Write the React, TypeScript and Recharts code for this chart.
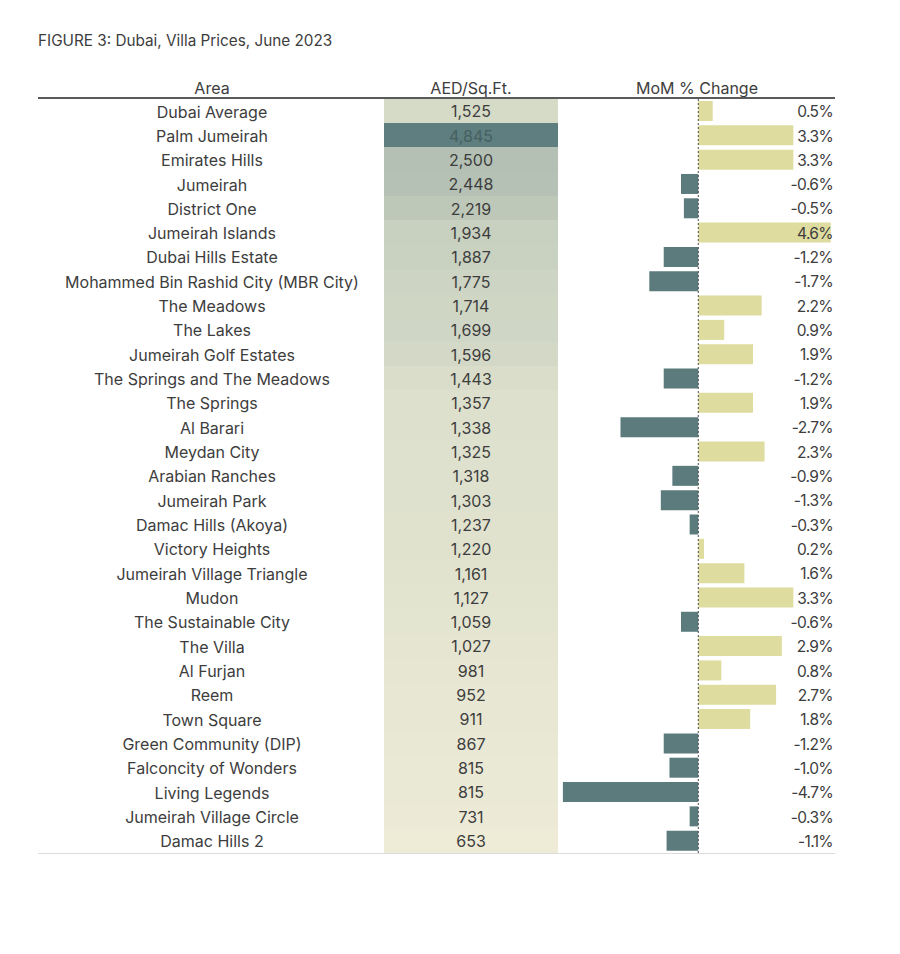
import { BarChart, Bar, XAxis, YAxis, Cell, LabelList, ReferenceLine } from 'recharts'

const AREAS = [
  'Dubai Average',
  'Palm Jumeirah',
  'Emirates Hills',
  'Jumeirah',
  'District One',
  'Jumeirah Islands',
  'Dubai Hills Estate',
  'Mohammed Bin Rashid City (MBR City)',
  'The Meadows',
  'The Lakes',
  'Jumeirah Golf Estates',
  'The Springs and The Meadows',
  'The Springs',
  'Al Barari',
  'Meydan City',
  'Arabian Ranches',
  'Jumeirah Park',
  'Damac Hills (Akoya)',
  'Victory Heights',
  'Jumeirah Village Triangle',
  'Mudon',
  'The Sustainable City',
  'The Villa',
  'Al Furjan',
  'Reem',
  'Town Square',
  'Green Community (DIP)',
  'Falconcity of Wonders',
  'Living Legends',
  'Jumeirah Village Circle',
  'Damac Hills 2',
]

const AED_PER_SQFT = [
  1525, 4845, 2500, 2448, 2219, 1934, 1887, 1775, 1714, 1699, 1596, 1443, 1357, 1338, 1325, 1318,
  1303, 1237, 1220, 1161, 1127, 1059, 1027, 981, 952, 911, 867, 815, 815, 731, 653,
]

const MOM_CHANGE = [
  0.5, 3.3, 3.3, -0.6, -0.5, 4.6, -1.2, -1.7, 2.2, 0.9, 1.9, -1.2, 1.9, -2.7, 2.3, -0.9, -1.3, -0.3,
  0.2, 1.6, 3.3, -0.6, 2.9, 0.8, 2.7, 1.8, -1.2, -1.0, -4.7, -0.3, -1.1,
]

const rows = AREAS.map((area, i) => ({ area, aed: AED_PER_SQFT[i], mom: MOM_CHANGE[i] }))

const FONT = 'Inter, "Noto Sans", sans-serif'
const TEXT = '#3d3d3d'
const TEAL = '#5b7b7d'
const SAND = '#dedc9f'

// 3-colour scale: min -> median -> max
const LOW = [238, 235, 215]
const MID = [222, 225, 205]
const HIGH = [94, 126, 128]
const sorted = [...AED_PER_SQFT].sort((a, b) => a - b)
const minV = sorted[0]
const maxV = sorted[sorted.length - 1]
const medV = sorted[Math.floor(sorted.length / 2)]

function mix(a: number[], b: number[], t: number) {
  const c = a.map((v, i) => Math.round(v + (b[i] - v) * t))
  return `rgb(${c[0]},${c[1]},${c[2]})`
}

function heatColor(v: number) {
  if (v <= medV) return mix(LOW, MID, (v - minV) / (medV - minV))
  return mix(MID, HIGH, (v - medV) / (maxV - medV))
}

const fmt = (v: number) => v.toLocaleString('en-US')

const CHART_TOP = 99
const CHART_BOTTOM = 101

function AreaTick(props: any) {
  const { y, payload } = props
  return (
    <text x={174} y={y} dy="0.4em" textAnchor="middle" fill={TEXT} fontSize={16} fontFamily={FONT}>
      {payload.value}
    </text>
  )
}

function HeatCell(props: any) {
  const { x, y, width, height, index } = props
  const d = rows[index]
  const dark = d.aed > 3500
  const top = Math.floor(y)
  const isLast = index === rows.length - 1
  return (
    <g>
      <rect
        x={x}
        y={top}
        width={width}
        height={Math.ceil(y + height) - top + (isLast ? 0 : 1)}
        fill={heatColor(d.aed)}
      />
      <text
        x={x + width / 2}
        y={y + height / 2}
        dy="0.4em"
        textAnchor="middle"
        fill={dark ? '#46605f' : TEXT}
        fontSize={16}
        fontFamily={FONT}
      >
        {fmt(d.aed)}
      </text>
    </g>
  )
}

function MomLabel(props: any) {
  const { y, height, value } = props
  return (
    <text
      x={275}
      y={y + height / 2}
      dy="0.4em"
      textAnchor="end"
      fill={TEXT}
      fontSize={15.5}
      letterSpacing={-0.6}
      fontFamily={FONT}
    >
      {`${Number(value).toFixed(1)}%`}
    </text>
  )
}

const headStyle = {
  position: 'absolute' as const,
  top: 78,
  fontSize: 16,
  color: TEXT,
  transform: 'translateX(-50%)',
  whiteSpace: 'nowrap' as const,
}

export default function App() {
  return (
    <div
      style={{
        position: 'absolute',
        left: 0,
        top: 0,
        width: 900,
        height: 954,
        background: '#fff',
        fontFamily: FONT,
      }}
    >
      <div style={{ position: 'absolute', left: 38, top: 31, fontSize: 15.3, color: TEXT }}>
        FIGURE 3: Dubai, Villa Prices, June 2023
      </div>

      <div style={{ ...headStyle, left: 212 }}>Area</div>
      <div style={{ ...headStyle, left: 471 }}>AED/Sq.Ft.</div>
      <div style={{ ...headStyle, left: 697 }}>MoM % Change</div>

      <div style={{ position: 'absolute', left: 38, top: 97, width: 797, height: 2, background: '#5a5a5a' }} />

      <div style={{ position: 'absolute', left: 38, top: 0 }}>
        <BarChart
          width={520}
          height={954}
          data={rows}
          layout="vertical"
          barCategoryGap={0}
          margin={{ top: CHART_TOP, bottom: CHART_BOTTOM, left: 0, right: 0 }}
        >
          <XAxis type="number" hide domain={[0, 'dataMax']} />
          <YAxis
            type="category"
            dataKey="area"
            width={346}
            axisLine={false}
            tickLine={false}
            interval={0}
            tick={<AreaTick />}
          />
          <Bar dataKey="aed" fill="transparent" background={<HeatCell />} isAnimationActive={false} />
        </BarChart>
      </div>

      <div style={{ position: 'absolute', left: 558, top: 0 }}>
        <BarChart
          width={342}
          height={954}
          data={rows}
          layout="vertical"
          barCategoryGap={2}
          margin={{ top: CHART_TOP, bottom: CHART_BOTTOM, left: 2, right: 64 }}
        >
          <XAxis type="number" hide domain={[-4.8, 4.78]} allowDataOverflow />
          <YAxis type="category" dataKey="area" hide />
          <Bar dataKey="mom" isAnimationActive={false}>
            {rows.map((r) => (
              <Cell key={r.area} fill={r.mom < 0 ? TEAL : SAND} />
            ))}
            <LabelList dataKey="mom" content={<MomLabel />} />
          </Bar>
          <ReferenceLine x={0} stroke="#4a4a4a" strokeDasharray="2 2" strokeWidth={1} />
        </BarChart>
      </div>

      <div style={{ position: 'absolute', left: 38, top: 853, width: 797, height: 1, background: '#dcdcdc' }} />
    </div>
  )
}
